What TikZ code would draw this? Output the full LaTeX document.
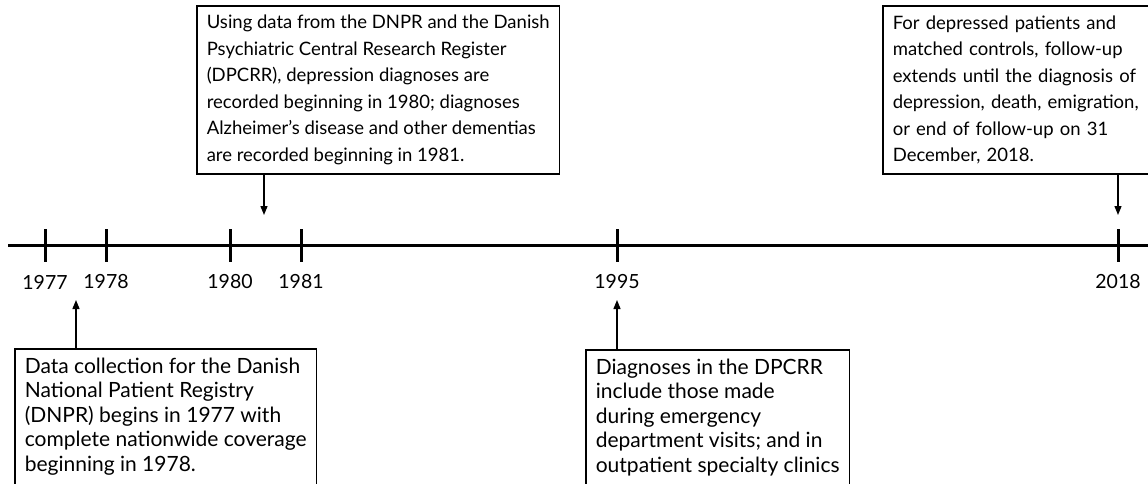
\documentclass[tikz,border=0pt]{standalone}
\usepackage{fontspec}
\setmainfont{Lato}
\usetikzlibrary{positioning, arrows.meta}
\tikzset{
    notebox/.style={
        draw, rectangle, line width=1.6pt, inner xsep=10pt, inner ysep=9pt,
        anchor=north west, align=left
    },
    topnote/.style={notebox, minimum height=168pt, font=\fontsize{18.5}{26.5}\selectfont},
    lownote/.style={notebox, font=\fontsize{21}{24.5}\selectfont},
    yearlabel/.style={font=\fontsize{19.5}{24}\selectfont},
    timeline/.style={line width=3pt},
    yeartick/.style={line width=3pt},
    pointer/.style={-{Triangle[length=9pt, width=7pt]}, line width=1.3pt}
}

\begin{document}
\begin{tikzpicture}[x=1pt, y=-1pt]
    \useasboundingbox (0,0) rectangle (1148,484);
    \clip (0,0) rectangle (1148,484);

    % timeline with year ticks
    \coordinate (start) at (8,245);
    \coordinate (end) at (1160,245);
    \draw[timeline] (start) -- (end);
    \foreach \yr/\px in {1977/45, 1978/106, 1980/230, 1981/301, 1995/617, 2018/1118} {
        \coordinate (t\yr) at (\px,245);
        \draw[yeartick] (\px,229) -- (\px,262);
        \node[yearlabel] (y\yr) at (\px,282) {\yr};
    }

    % notes above the line
    \node[topnote] (dpcrr) at (196,5)
        {Using data from the DNPR and the Danish\\ Psychiatric Central Research Register\\ (DPCRR), depression diagnoses are\\ recorded beginning in 1980; diagnoses\\ Alzheimer’s disease and other dementias\\ are recorded beginning in 1981.};
    \node[topnote, text width=262pt] (followup) at (882,5)
        {For depressed patients and\\ matched controls, follow-up\\ extends until the diagnosis of\\ depression, death, emigration,\\ or end of follow-up on 31\\ December, 2018.};

    % notes below the line
    \node[lownote] (dnpr) at (14,348)
        {Data collection for the Danish\\ National Patient Registry\\ (DNPR) begins in 1977 with\\ complete nationwide coverage\\ beginning in 1978.\\ \mbox{}};
    \node[lownote] (emergency) at (585,349)
        {Diagnoses in the DPCRR\\ include those made\\ during emergency\\ department visits; and in\\ outpatient specialty clinics\\ \mbox{}};

    % pointers
    \coordinate (tip1980) at (264,215);
    \coordinate (tip2018) at (1118,215);
    \coordinate (tip1977) at (76,300);
    \coordinate (tip1995) at (617,300);
    \draw[pointer] (tip1980 |- dpcrr.south) -- (tip1980);
    \draw[pointer] (tip2018 |- followup.south) -- (tip2018);
    \draw[pointer] (tip1977 |- dnpr.north) -- (tip1977);
    \draw[pointer] (tip1995 |- emergency.north) -- (tip1995);
\end{tikzpicture}
\end{document}
